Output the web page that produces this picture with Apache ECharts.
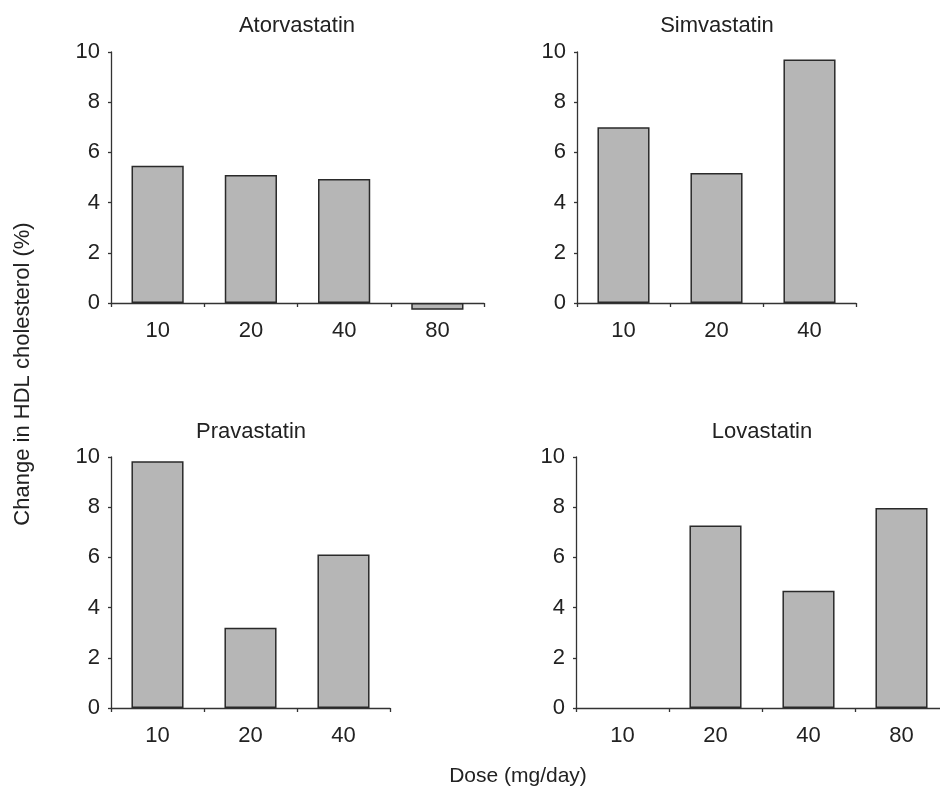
<!DOCTYPE html>
<html>
<head>
<meta charset="utf-8">
<script src="https://cdn.jsdelivr.net/npm/echarts@6/dist/echarts.min.js"></script>
<style>
html,body{margin:0;padding:0;background:#fff;overflow:hidden;}
#chart{width:952px;height:790px;}
</style>
</head>
<body>
<div id="chart"></div>
<script>
// ---- data ----
const dosesAtorvastatin = ['10', '20', '40', '80'];
const dosesSimvastatin = ['10', '20', '40'];
const dosesPravastatin = ['10', '20', '40'];
const dosesLovastatin = ['10', '20', '40', '80'];
const atorvastatin = [5.47, 5.1, 4.94, -0.27];
const simvastatin = [7.0, 5.18, 9.7];
const pravastatin = [9.83, 3.2, 6.12];
const lovastatin = [null, 7.27, 4.67, 7.97];
const panelTitles = ['Atorvastatin', 'Simvastatin', 'Pravastatin', 'Lovastatin'];
const yMin = 0, yMax = 10, yStep = 2;
const yAxisTitle = 'Change in HDL cholesterol (%)';
const xAxisTitle = 'Dose (mg/day)';

// ---- layout ----
const FONT = '"Liberation Sans", Arial, Helvetica, sans-serif';
const TXT = '#222';
const AX = '#333';
const grids = [
  {left: 111, top: 52, width: 373, height: 251},
  {left: 577, top: 52, width: 279, height: 251},
  {left: 111, top: 457, width: 279, height: 251},
  {left: 576, top: 457, width: 372, height: 251}
];
const cats = [dosesAtorvastatin, dosesSimvastatin, dosesPravastatin, dosesLovastatin];
const vals = [atorvastatin, simvastatin, pravastatin, lovastatin];

const chart = echarts.init(document.getElementById('chart'), null, {renderer: 'canvas'});

const option = {
  animation: false,
  backgroundColor: '#fff',
  grid: grids.map(g => Object.assign({containLabel: false}, g)),
  xAxis: cats.map((c, i) => ({
    type: 'category',
    gridIndex: i,
    data: c,
    boundaryGap: true,
    axisLine: {onZero: true, lineStyle: {color: AX, width: 1.3}},
    axisTick: {show: true, length: 4, lineStyle: {color: AX, width: 1.3}},
    axisLabel: {color: TXT, fontSize: 22, fontFamily: FONT, margin: 17}
  })),
  yAxis: cats.map((c, i) => ({
    type: 'value',
    gridIndex: i,
    min: yMin, max: yMax, interval: yStep,
    splitLine: {show: false},
    axisLine: {show: true, lineStyle: {color: AX, width: 1.3}},
    axisTick: {show: true, length: 3, lineStyle: {color: AX, width: 1.3}},
    axisLabel: {color: TXT, fontSize: 22, fontFamily: FONT, margin: 11}
  })),
  series: vals.map((v, i) => ({
    type: 'bar',
    xAxisIndex: i,
    yAxisIndex: i,
    data: v,
    clip: false,
    barWidth: '56%',
    itemStyle: {color: '#b6b6b6', borderColor: '#2a2a2a', borderWidth: 1.5}
  })),
  graphic: [
    {type: 'text', x: 297, y: 26, style: {text: panelTitles[0], fill: TXT, font: '22px ' + FONT, align: 'center', verticalAlign: 'middle'}},
    {type: 'text', x: 717, y: 26, style: {text: panelTitles[1], fill: TXT, font: '22px ' + FONT, align: 'center', verticalAlign: 'middle'}},
    {type: 'text', x: 251, y: 432, style: {text: panelTitles[2], fill: TXT, font: '22px ' + FONT, align: 'center', verticalAlign: 'middle'}},
    {type: 'text', x: 762, y: 432, style: {text: panelTitles[3], fill: TXT, font: '22px ' + FONT, align: 'center', verticalAlign: 'middle'}},
    {type: 'text', x: 23, y: 374, rotation: Math.PI / 2, style: {text: yAxisTitle, fill: TXT, font: '22px ' + FONT, align: 'center', verticalAlign: 'middle'}},
    {type: 'text', x: 518, y: 776, style: {text: xAxisTitle, fill: TXT, font: '21px ' + FONT, align: 'center', verticalAlign: 'middle'}}
  ]
};
chart.setOption(option);
</script>
</body>
</html>
